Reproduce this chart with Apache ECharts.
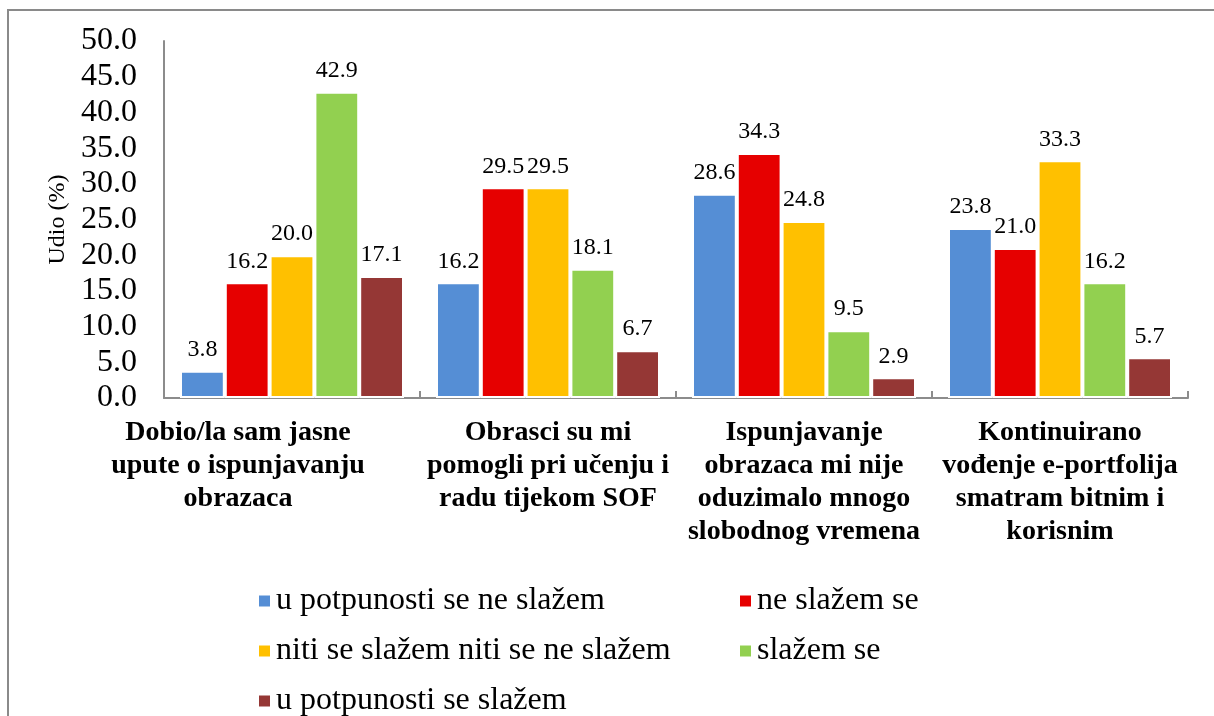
<!DOCTYPE html>
<html>
<head>
<meta charset="utf-8">
<script src="https://cdn.jsdelivr.net/npm/echarts@6/dist/echarts.min.js"></script>
<style>
  html, body { margin: 0; padding: 0; background: #fff; }
  #chart { width: 1214px; height: 716px; }
</style>
</head>
<body>
<div id="chart"></div>
<script>
const categories = [
  'Dobio/la sam jasne\nupute o ispunjavanju\nobrazaca',
  'Obrasci su mi\npomogli pri učenju i\nradu tijekom SOF',
  'Ispunjavanje\nobrazaca mi nije\noduzimalo mnogo\nslobodnog vremena',
  'Kontinuirano\nvođenje e-portfolija\nsmatram bitnim i\nkorisnim'
];
const seriesNames = [
  'u potpunosti se ne slažem',
  'ne slažem se',
  'niti se slažem niti se ne slažem',
  'slažem se',
  'u potpunosti se slažem'
];
const uPotpunostiNe = [3.8, 16.2, 28.6, 23.8];
const neSlazem = [16.2, 29.5, 34.3, 21.0];
const niti = [20.0, 29.5, 24.8, 33.3];
const slazem = [42.9, 18.1, 9.5, 16.2];
const uPotpunostiDa = [17.1, 6.7, 2.9, 5.7];
const seriesValues = [uPotpunostiNe, neSlazem, niti, slazem, uPotpunostiDa];
const colors = ['#558ED5', '#E60000', '#FFC000', '#92D050', '#953735'];
const yAxisName = 'Udio (%)';

const FONT = 'Liberation Serif';
const chart = echarts.init(document.getElementById('chart'), null, { renderer: 'canvas' });

const legendPos = [
  { left: 257, top: 583 },
  { left: 738, top: 583 },
  { left: 257, top: 633 },
  { left: 738, top: 633 },
  { left: 257, top: 683 }
];

// first category label sits left of its category centre in the original
const categoryData = categories.map((c, i) => i === 0
  ? { value: c, textStyle: { padding: [0, 108, 0, 0] } }
  : c);

const option = {
  backgroundColor: '#fff',
  animation: false,
  color: colors,
  textStyle: { fontFamily: FONT },
  graphic: [{
    type: 'rect',
    shape: { x: 8, y: 10, width: 1230, height: 730 },
    style: { fill: 'none', stroke: '#8a8a8a', lineWidth: 2 },
    silent: true
  }],
  grid: { left: 164, right: 26, top: 41, bottom: 318 },
  legend: seriesNames.map((n, i) => ({
    data: [n],
    left: legendPos[i].left,
    top: legendPos[i].top,
    orient: 'horizontal',
    itemWidth: 13,
    itemHeight: 13,
    itemGap: 0,
    padding: 0,
    icon: 'rect',
    textStyle: { fontFamily: FONT, fontSize: 32, color: '#000', lineHeight: 36 }
  })),
  xAxis: {
    type: 'category',
    data: categoryData,
    axisLine: { lineStyle: { color: '#8c8c8c', width: 2 } },
    axisTick: { show: true, inside: true, length: 7, lineStyle: { color: '#8c8c8c', width: 2 } },
    axisLabel: {
      interval: 0,
      margin: 18,
      fontFamily: FONT,
      fontWeight: 'bold',
      fontSize: 28,
      lineHeight: 33,
      color: '#000',
      align: 'center'
    },
    splitLine: { show: false }
  },
  yAxis: {
    type: 'value',
    min: 0,
    max: 50,
    interval: 5,
    name: yAxisName,
    nameLocation: 'middle',
    nameRotate: 90,
    nameGap: 88,
    nameTextStyle: { fontFamily: FONT, fontSize: 24, color: '#000' },
    axisLine: { show: true, lineStyle: { color: '#8c8c8c', width: 2 } },
    axisTick: { show: false },
    splitLine: { show: false },
    axisLabel: {
      margin: 27,
      fontFamily: FONT,
      fontSize: 32,
      color: '#000',
      formatter: v => v.toFixed(1)
    }
  },
  series: seriesNames.map((n, i) => ({
    name: n,
    type: 'bar',
    data: seriesValues[i],
    barGap: '0%',
    barCategoryGap: '12.5%',
    itemStyle: { color: colors[i], borderColor: '#fff', borderWidth: 2 },
    label: {
      show: true,
      position: 'top',
      distance: 9,
      fontFamily: FONT,
      fontSize: 24,
      lineHeight: 24,
      color: '#000',
      formatter: p => p.value.toFixed(1)
    }
  }))
};
chart.setOption(option);
</script>
</body>
</html>
